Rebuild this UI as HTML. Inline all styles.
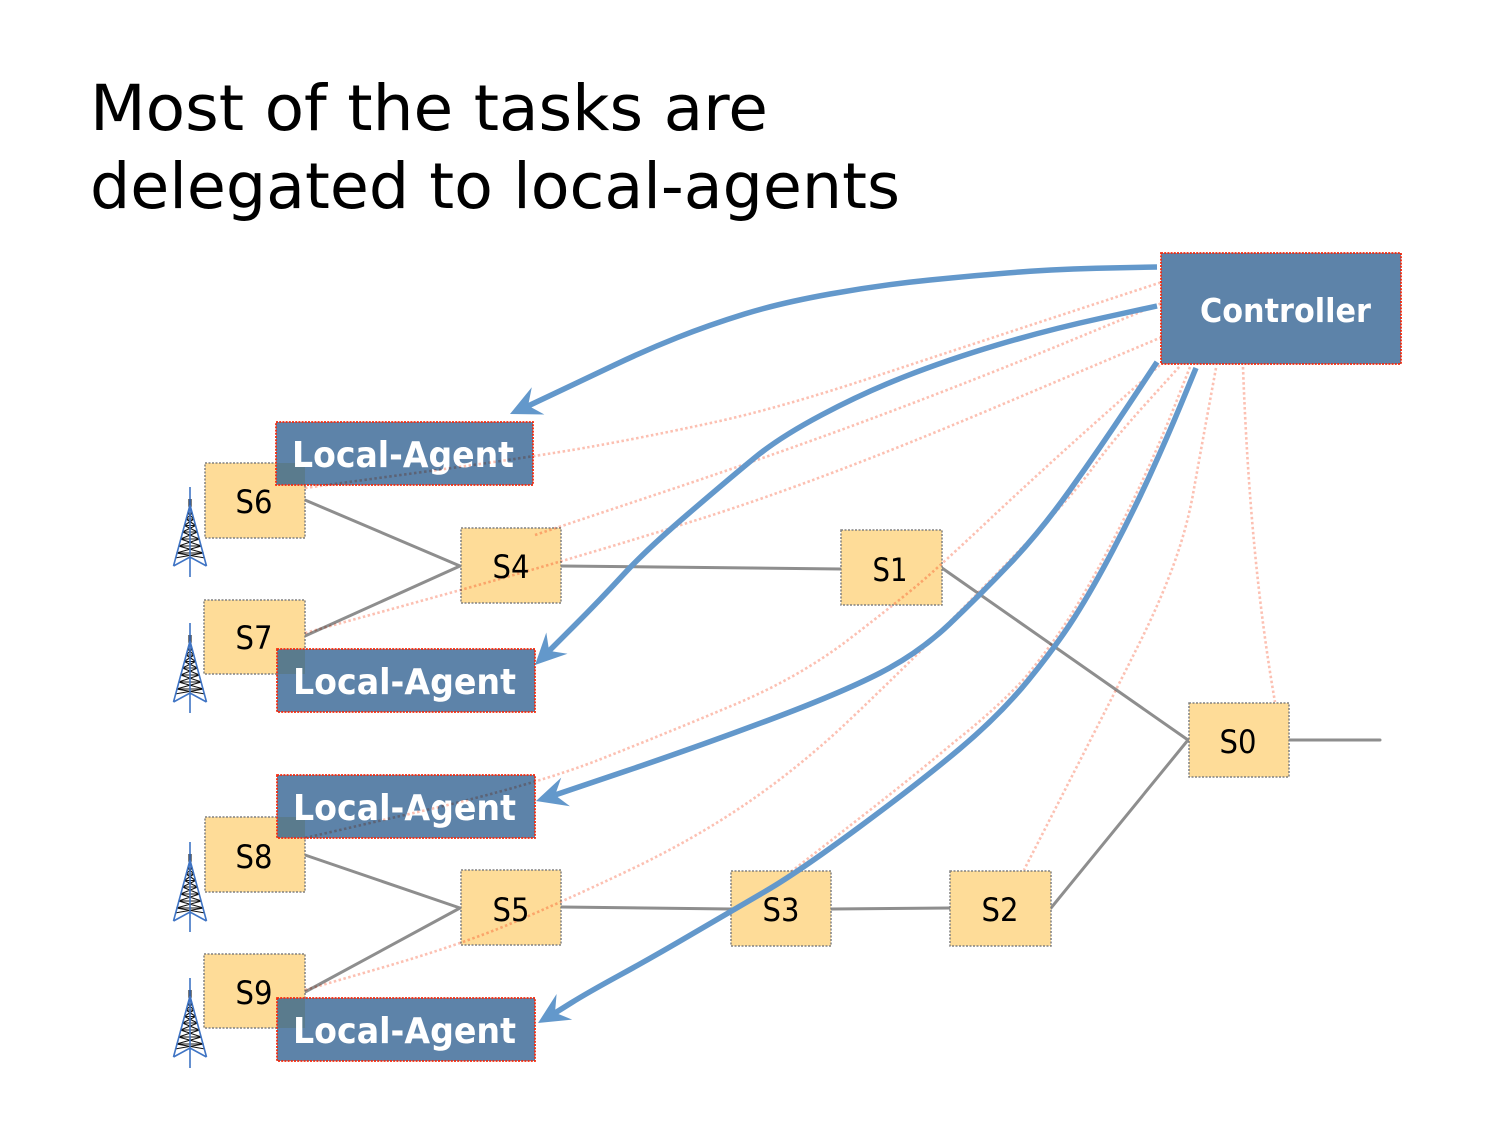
<!DOCTYPE html>
<html>
<head>
<meta charset="utf-8">
<style>
  html, body { margin: 0; padding: 0; background: #ffffff; }
  body { width: 1500px; height: 1125px; overflow: hidden; }
  svg { display: block; }
  .ttl { font-family: "DejaVu Sans", "Liberation Sans", sans-serif; font-size: 63px; fill: #000; }
  .sw { font-family: "DejaVu Sans", "Liberation Sans", sans-serif; font-size: 32px; fill: #000; }
  .ag { font-family: "DejaVu Sans", "Liberation Sans", sans-serif; font-size: 36px; font-weight: bold; fill: #fff; }
  .dots { mix-blend-mode: multiply; }
</style>
</head>
<body>
<svg width="1500" height="1125" viewBox="0 0 1500 1125" xmlns="http://www.w3.org/2000/svg">
  <defs>
    <g id="tw" fill="none">
      <path d="M-1,20 L2.3,26 M1,20 L-2.3,26 M-2.3,26 L3.9,32 M2.3,26 L-3.9,32 M-3.9,32 L5.7,38.5 M3.9,32 L-5.7,38.5 M-5.7,38.5 L7.6,45 M5.7,38.5 L-7.6,45 M-7.6,45 L9.5,52 M7.6,45 L-9.5,52 M-9.5,52 L11.5,59 M9.5,52 L-11.5,59 M-11.5,59 L13.6,66 M11.5,59 L-13.6,66 M-13.6,66 L15,71 M13.6,66 L-15,71 M-2.3,26 H2.3 M-3.9,32 H3.9 M-5.7,38.5 H5.7 M-7.6,45 H7.6 M-9.5,52 H9.5 M-11.5,59 H11.5 M-13.6,66 H13.6 M-1,12 V20 M1,12 V20" stroke="#111" stroke-width="1.1"/>
      <path d="M0,0 V90 M0,18 L-16.5,79 M0,18 L16.5,79 M-16.5,79 L0,70 L16.5,79" stroke="#3f74c4" stroke-width="1.6"/>
    </g>
  </defs>

  <rect x="0" y="0" width="1500" height="1125" fill="#ffffff"/>

  <!-- Title -->
  <text class="ttl" x="90" y="130" textLength="678" lengthAdjust="spacingAndGlyphs">Most of the tasks are</text>
  <text class="ttl" x="90" y="208" textLength="810" lengthAdjust="spacingAndGlyphs">delegated to local-agents</text>

  <!-- gray links -->
  <g stroke="#8e8e8e" stroke-width="3" fill="none" stroke-linecap="round">
    <path d="M305,500 L460,566"/>
    <path d="M305,636 L460,566"/>
    <path d="M561,566 L841,569"/>
    <path d="M942,568 L1188,740"/>
    <path d="M1289,740 L1380,740"/>
    <path d="M305,855 L460,908"/>
    <path d="M305,992 L460,908"/>
    <path d="M561,907 L731,909"/>
    <path d="M831,909 L950,908"/>
    <path d="M1051,908 L1188,740"/>
  </g>

  <!-- towers -->
  <use href="#tw" x="190" y="487"/>
  <use href="#tw" x="190" y="623"/>
  <use href="#tw" x="190" y="842"/>
  <use href="#tw" x="190" y="978"/>

  <!-- switch boxes -->
  <g fill="#fedc98" stroke="#808080" stroke-width="1.5" stroke-dasharray="2,1.5">
    <rect x="205" y="463" width="100" height="75"/>
    <rect x="204" y="600" width="101" height="74"/>
    <rect x="461" y="528" width="100" height="75"/>
    <rect x="841" y="530" width="101" height="75"/>
    <rect x="1189" y="703" width="100" height="74"/>
    <rect x="205" y="817" width="100" height="75"/>
    <rect x="204" y="954" width="101" height="74"/>
    <rect x="461" y="870" width="100" height="75"/>
    <rect x="731" y="871" width="100" height="75"/>
    <rect x="950" y="871" width="101" height="75"/>
  </g>
  <g class="sw" text-anchor="middle">
    <text x="254" y="513" textLength="37" lengthAdjust="spacingAndGlyphs">S6</text>
    <text x="254" y="649" textLength="37" lengthAdjust="spacingAndGlyphs">S7</text>
    <text x="511" y="578" textLength="37" lengthAdjust="spacingAndGlyphs">S4</text>
    <text x="890" y="581" textLength="35" lengthAdjust="spacingAndGlyphs">S1</text>
    <text x="1238" y="753" textLength="37" lengthAdjust="spacingAndGlyphs">S0</text>
    <text x="254" y="868" textLength="37" lengthAdjust="spacingAndGlyphs">S8</text>
    <text x="254" y="1004" textLength="37" lengthAdjust="spacingAndGlyphs">S9</text>
    <text x="511" y="921" textLength="37" lengthAdjust="spacingAndGlyphs">S5</text>
    <text x="781" y="921" textLength="37" lengthAdjust="spacingAndGlyphs">S3</text>
    <text x="1000" y="921" textLength="37" lengthAdjust="spacingAndGlyphs">S2</text>
  </g>

  <!-- local agents and controller -->
  <g fill="#5d83a9" stroke="#f52a0c" stroke-width="1.8" stroke-dasharray="2,1.2">
    <rect x="276" y="422" width="257" height="63"/>
    <rect x="277" y="649" width="258" height="63"/>
    <rect x="277" y="775" width="258" height="63"/>
    <rect x="277" y="998" width="258" height="63"/>
    <rect x="1161" y="253" width="240" height="111"/>
  </g>
  <!-- overlap regions -->
  <g fill="#5a7b8d">
    <rect x="277" y="463" width="28" height="21"/>
    <rect x="278" y="650" width="27" height="24"/>
    <rect x="278" y="817" width="27" height="20"/>
    <rect x="278" y="999" width="27" height="29"/>
  </g>
  <g class="ag">
    <text x="292" y="467" textLength="222" lengthAdjust="spacingAndGlyphs">Local-Agent</text>
    <text x="293" y="694" textLength="223" lengthAdjust="spacingAndGlyphs">Local-Agent</text>
    <text x="293" y="820" textLength="223" lengthAdjust="spacingAndGlyphs">Local-Agent</text>
    <text x="293" y="1043" textLength="223" lengthAdjust="spacingAndGlyphs">Local-Agent</text>
    <text x="1200" y="322" font-size="33" textLength="171" lengthAdjust="spacingAndGlyphs">Controller</text>
  </g>

  <!-- dotted control links -->
  <g class="dots" fill="none" stroke="#fcc0b2" stroke-width="2.6" stroke-dasharray="2.5,2.5">
    <path d="M305,488 L419,472.5 Q533,457 589.5,447 Q646,437 713,422.5 Q780,408 875,376.5 Q970,345 1066,313.5 L1162,282"/>
    <path d="M535,535 L657.5,494 Q780,453 880,415.5 Q980,378 1071,340.5 L1162,303"/>
    <path d="M305,633 L442.5,595 Q580,557 701.5,518.5 Q823,480 992.5,408.5 L1162,337"/>
    <path d="M305,838 L420,811.5 Q535,785 601,759 Q667,733 733.5,705 Q800,677 850,638.5 Q900,600 920,583 Q940,566 990,519 Q1040,472 1100,418.5 L1160,365"/>
    <path d="M305,990 L382.5,967.5 Q460,945 511,923.5 Q562,902 627.5,871 Q693,840 746.5,803.5 Q800,767 850,719.5 Q900,672 941.5,630 Q983,588 1028,541.5 Q1073,495 1093,467.5 Q1113,440 1146.5,403 L1180,366"/>
    <path d="M1190,367 L1176,402.5 Q1162,438 1145,475 Q1128,512 1108,550 Q1088,588 1070,616.5 Q1052,645 1024,679 Q996,709 955.5,741 Q915,775 867.5,812 L792,871"/>
    <path d="M1216,368 L1208,411.5 Q1200,455 1193.5,491.5 Q1187,528 1173.5,565 Q1160,602 1138.5,645 Q1117,688 1093.5,734 L1024,870"/>
    <path d="M1243,367 Q1250,560 1275,702"/>
  </g>

  <!-- blue arrows -->
  <g fill="none" stroke="#6398cb" stroke-width="5.5" stroke-linecap="butt" stroke-linejoin="round">
    <path d="M1157,267 L1108.5,268 Q1060,269 1020,272 Q980,275 930,280 Q880,285 830,294 Q780,303 744.5,314 Q709,325 677.5,337.5 Q646,350 614.5,365 Q583,380 555.5,393 L528,406"/>
    <path d="M1157,306 L1102,318 Q1047,330 997,345 Q947,360 905,376.5 Q863,393 821.5,415 Q780,437 755,457.5 Q730,478 688,514 Q646,550 623,575 Q600,600 574.5,625.5 L549,651"/>
    <path d="M1157,362 L1128.5,405 Q1100,448 1070,490 Q1040,532 1010,563.5 Q980,595 949.5,624 Q919,653 880,673 Q841,693 769,720 Q697,747 626,771 L555,795"/>
    <path d="M1196,368 L1181.5,403 Q1167,438 1150,475 Q1133,512 1113,550 Q1093,588 1075,616.5 Q1057,645 1028.5,680 Q1000,715 959.5,749 Q919,783 858,828 Q797,873 765,891.5 Q733,910 693,933.5 Q653,957 620,975 Q587,993 571,1003 L555,1013"/>
  </g>
  <g fill="#6398cb">
    <polygon points="510,414 531.8,387.3 528.1,405.6 544.4,414.5"/>
    <polygon points="535,665 546.3,632.5 549.1,650.9 567.5,653.7"/>
    <polygon points="536,801 561.2,777.6 555.1,795.1 570,806.2"/>
    <polygon points="538,1023 556.6,994 555,1012.6 572.2,1019.6"/>
  </g>
</svg>
</body>
</html>
